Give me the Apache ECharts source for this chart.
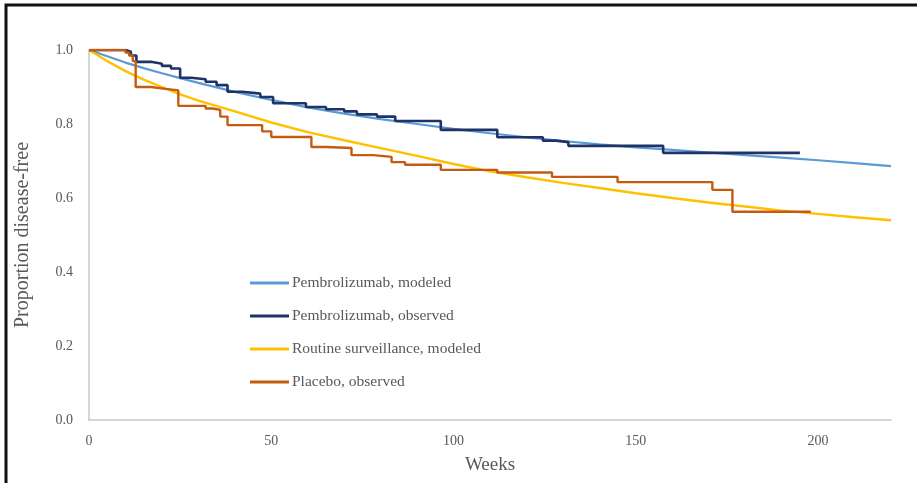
<!DOCTYPE html>
<html>
<head>
<meta charset="utf-8">
<script src="https://cdn.jsdelivr.net/npm/echarts@6/dist/echarts.min.js"></script>
<style>
  html, body { margin: 0; padding: 0; background: #ffffff; }
  #chart { width: 917px; height: 483px; }
</style>
</head>
<body>
<div id="chart"></div>
<script>
// Weeks at which the modeled survival curves are evaluated
const modelWeeks = [0, 5, 10, 15, 20, 25, 30, 40, 50, 60, 70, 80, 90, 100, 110, 120, 130, 140, 150, 160, 170, 180, 190, 200, 210, 220];
const pembroModeled = [1.0, 0.983, 0.966, 0.951, 0.937, 0.924, 0.911, 0.887, 0.865, 0.845, 0.828, 0.813, 0.8, 0.787, 0.775, 0.764, 0.754, 0.745, 0.737, 0.73, 0.723, 0.716, 0.709, 0.702, 0.694, 0.686];
const surveillanceModeled = [1.0, 0.97, 0.943, 0.92, 0.9, 0.88, 0.863, 0.834, 0.804, 0.778, 0.756, 0.735, 0.714, 0.692, 0.672, 0.656, 0.641, 0.627, 0.613, 0.6, 0.588, 0.577, 0.566, 0.557, 0.548, 0.54];

// Kaplan-Meier observed curves: event weeks and survival after each event
const pembroObsWeeks = [0, 10, 11.5, 13, 17, 20, 22.5, 25, 28, 32, 35, 38, 42, 47, 50.5, 59.5, 65, 70, 73.5, 79, 84, 96.5, 112, 124.5, 128, 131.5, 157.5, 195];
const pembroObsSurv = [1.0, 0.995, 0.985, 0.968, 0.963, 0.957, 0.95, 0.925, 0.921, 0.914, 0.905, 0.887, 0.882, 0.873, 0.856, 0.846, 0.84, 0.834, 0.826, 0.82, 0.808, 0.784, 0.764, 0.755, 0.751, 0.741, 0.722, 0.722];
const placeboObsWeeks = [0, 10, 11, 12, 12.8, 17, 21, 24.5, 32, 34, 36, 38, 47.5, 50, 61, 65, 72, 78, 83, 86.7, 96.5, 112, 127, 145, 171, 176.5, 198];
const placeboObsSurv = [1.0, 0.993, 0.985, 0.97, 0.9, 0.895, 0.891, 0.849, 0.842, 0.838, 0.82, 0.797, 0.78, 0.765, 0.738, 0.735, 0.716, 0.711, 0.697, 0.69, 0.676, 0.669, 0.657, 0.643, 0.622, 0.563, 0.563];

const seriesNames = ['Pembrolizumab, modeled', 'Pembrolizumab, observed', 'Routine surveillance, modeled', 'Placebo, observed'];
const xTicks = { min: 0, max: 220, interval: 50 };
const yTicks = { min: 0, max: 1, interval: 0.2 };

const zip = (xs, ys) => xs.map((x, i) => [x, ys[i]]);

const serif = '"Liberation Serif", "DejaVu Serif", serif';
const textGray = '#595959';

const chart = echarts.init(document.getElementById('chart'), null, { renderer: 'canvas' });

chart.setOption({
  animation: false,
  backgroundColor: '#ffffff',
  grid: { left: 89, right: 26, top: 50, bottom: 63, containLabel: false },
  graphic: [{
    type: 'rect',
    silent: true,
    shape: { x: 6, y: 5, width: 930, height: 500 },
    style: { fill: 'none', stroke: '#111111', lineWidth: 3 }
  }],
  legend: {
    orient: 'vertical',
    left: 245,
    top: 270,
    itemWidth: 39,
    itemHeight: 14,
    itemGap: 17,
    icon: 'path://M0,0 L40,0 L40,3 L0,3 Z',
    textStyle: { fontFamily: serif, fontSize: 15.5, color: textGray, padding: [0, 0, 0, -2] },
    data: seriesNames
  },
  xAxis: {
    type: 'value',
    min: xTicks.min,
    max: xTicks.max,
    interval: xTicks.interval,
    name: 'Weeks',
    nameLocation: 'middle',
    nameGap: 36,
    nameTextStyle: { fontFamily: serif, fontSize: 19, color: textGray },
    axisLine: { show: true, lineStyle: { color: '#c8c8c8', width: 1.5 } },
    axisTick: { show: false },
    splitLine: { show: false },
    axisLabel: { fontFamily: serif, fontSize: 14, color: textGray, margin: 14, showMaxLabel: false }
  },
  yAxis: {
    type: 'value',
    min: yTicks.min,
    max: yTicks.max,
    interval: yTicks.interval,
    name: 'Proportion disease-free',
    nameLocation: 'middle',
    nameGap: 56,
    nameTextStyle: { fontFamily: serif, fontSize: 20, color: textGray },
    axisLine: { show: true, lineStyle: { color: '#c8c8c8', width: 1.5 } },
    axisTick: { show: false },
    splitLine: { show: false },
    axisLabel: { fontFamily: serif, fontSize: 14, color: textGray, margin: 16, formatter: v => v.toFixed(1) }
  },
  series: [
    {
      name: seriesNames[0], type: 'line', symbol: 'none', z: 2,
      data: zip(modelWeeks, pembroModeled),
      lineStyle: { color: '#5b9bd5', width: 2.2 }, itemStyle: { color: '#5b9bd5' }
    },
    {
      name: seriesNames[1], type: 'line', symbol: 'none', step: 'end', z: 3,
      data: zip(pembroObsWeeks, pembroObsSurv),
      lineStyle: { color: '#1f3366', width: 2.6 }, itemStyle: { color: '#1f3366' }
    },
    {
      name: seriesNames[2], type: 'line', symbol: 'none', z: 2,
      data: zip(modelWeeks, surveillanceModeled),
      lineStyle: { color: '#ffc000', width: 2.4 }, itemStyle: { color: '#ffc000' }
    },
    {
      name: seriesNames[3], type: 'line', symbol: 'none', step: 'end', z: 3,
      data: zip(placeboObsWeeks, placeboObsSurv),
      lineStyle: { color: '#c55a11', width: 2.4 }, itemStyle: { color: '#c55a11' }
    }
  ]
});
</script>
</body>
</html>
